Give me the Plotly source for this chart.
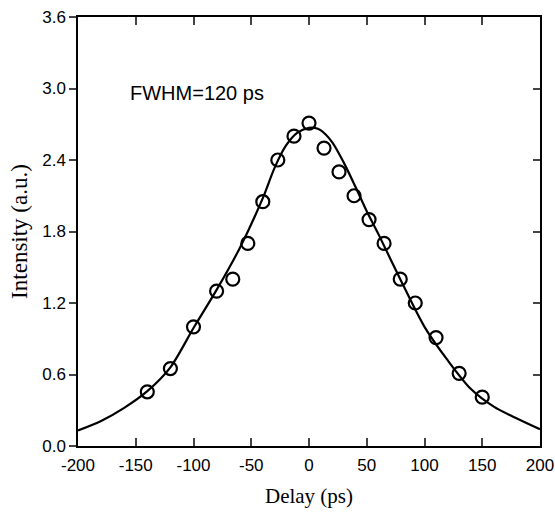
import plotly.graph_objects as go

# measured data (open circles)
delay_pts = [-140, -120, -100, -80, -66, -53, -40, -27, -13, 0, 13, 26, 39, 52, 65, 79, 92, 110, 130, 150]
intensity_pts = [0.455, 0.65, 1.0, 1.30, 1.40, 1.70, 2.05, 2.40, 2.60, 2.71, 2.50, 2.30, 2.10, 1.90, 1.70, 1.40, 1.20, 0.91, 0.61, 0.41]

# fitted curve
fit_x = [-200, -180, -160, -140, -120, -100, -80, -60, -40, -30, -20, -10, 0, 5, 10, 20, 30, 40, 50, 60, 80, 100, 120, 140, 160, 180, 200]
fit_y = [0.13, 0.21, 0.32, 0.46, 0.66, 0.99, 1.31, 1.66, 2.08, 2.33, 2.52, 2.63, 2.67, 2.67, 2.65, 2.55, 2.38, 2.18, 1.97, 1.78, 1.38, 1.00, 0.72, 0.48, 0.33, 0.23, 0.14]

x_ticks = [-200, -150, -100, -50, 0, 50, 100, 150, 200]
x_labels = ["-200", "-150", "-100", "-50", "0", "50", "100", "150", "200"]
y_ticks = [0.0, 0.6, 1.2, 1.8, 2.4, 3.0, 3.6]
y_labels = ["0.0", "0.6", "1.2", "1.8", "2.4", "3.0", "3.6"]

fig = go.Figure()
fig.add_trace(go.Scatter(x=fit_x, y=fit_y, mode="lines", line=dict(color="black", width=2.2, shape="spline", smoothing=0.8),
                         showlegend=False, hoverinfo="skip"))
fig.add_trace(go.Scatter(x=delay_pts, y=intensity_pts, mode="markers",
                         marker=dict(symbol="circle-open", size=13, color="black", line=dict(width=2.2)),
                         showlegend=False))
# invisible trace for right axis
fig.add_trace(go.Scatter(x=[None], y=[None], yaxis="y2", showlegend=False))

tick_font = dict(family="Liberation Sans, Arial, sans-serif", size=17, color="black")
title_font = dict(family="Liberation Serif, Times New Roman, serif", size=21, color="black")

fig.update_layout(
    width=555, height=513,
    margin=dict(l=78, r=15, t=17, b=67),
    paper_bgcolor="white", plot_bgcolor="white",
    xaxis=dict(range=[-200, 200], tickvals=x_ticks, ticktext=x_labels, ticks="inside", ticklen=8, tickwidth=1.5,
               showline=True, linecolor="black", linewidth=1.5, mirror="ticks", showgrid=False, zeroline=False,
               automargin=False, ticklabeloverflow="allow", ticklabelstandoff=3, tickfont=tick_font,
               title=dict(text="Delay (ps)", font=title_font, standoff=14)),
    yaxis=dict(range=[0, 3.6], tickvals=y_ticks, ticktext=y_labels, ticks="outside", ticklen=7, tickwidth=1.5,
               showline=True, linecolor="black", linewidth=1.5, mirror=True, showgrid=False, zeroline=False,
               automargin=False, ticklabeloverflow="allow", tickfont=tick_font,
               title=dict(text="Intensity (a.u.)", font=dict(family="Liberation Serif, Times New Roman, serif", size=23, color="black"), standoff=8)),
    yaxis2=dict(range=[0, 3.6], tickvals=y_ticks, ticks="inside", ticklen=7, tickwidth=1.5, overlaying="y",
                side="right", showticklabels=False, showgrid=False, zeroline=False, showline=False, automargin=False),
    annotations=[dict(x=-157, y=2.96, xref="x", yref="y", text="FWHM=120 ps", showarrow=False,
                      xanchor="left", yanchor="middle",
                      font=dict(family="Liberation Sans, Arial, sans-serif", size=20, color="black"))],
)

fig.write_html("out.html", config={"displayModeBar": False},
               post_script="document.body.style.margin='0';document.body.style.overflow='hidden';")
